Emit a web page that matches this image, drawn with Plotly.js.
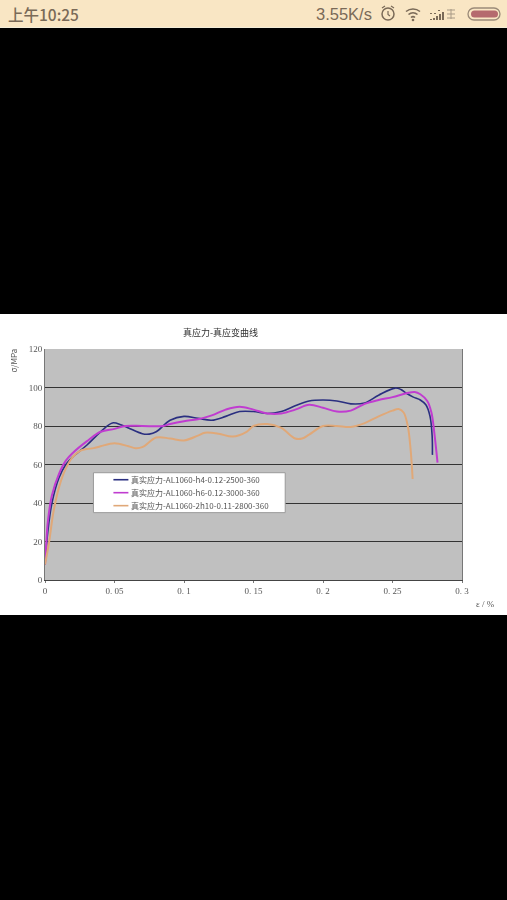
<!DOCTYPE html>
<html><head><meta charset="utf-8">
<script src="https://cdn.plot.ly/plotly-3.0.1.min.js"></script>
<style>
html,body{margin:0;padding:0;background:#000;width:507px;height:900px;overflow:hidden}
#status{position:absolute;left:0;top:0;width:507px;height:27px;background:#f9e6c4;border-bottom:1px solid #f3edd9;color:#7a6a58;font-family:"Liberation Sans",sans-serif}
#status span{position:absolute;white-space:nowrap}
#time{left:8px;top:4px;font-size:15.5px;font-family:"Noto Sans CJK SC",sans-serif;line-height:20px;font-weight:500}
#speed{left:316px;top:4px;font-size:16.5px;line-height:20px}
#icons{position:absolute;left:378px;top:3px}
#panel{position:absolute;left:0;top:314px;width:507px;height:301px;background:#fff}
#chart{width:507px;height:301px;filter:blur(0.45px)}
</style></head><body>
<div id="status"><span id="time">上午10:25</span><span id="speed">3.55K/s</span>
<svg id="icons" width="125" height="22" viewBox="0 0 125 22">
<circle cx="10" cy="11" r="6" fill="none" stroke="#7a6a58" stroke-width="1.5"/><path d="M10 8v3.500l2 1.500M4 5l3-2M16 5l-3-2" fill="none" stroke="#7a6a58" stroke-width="1.200"/>
<path d="M28 8.500a11 11 0 0 1 14 0M30.500 11.500a7 7 0 0 1 9 0M33 14.500a3 3 0 0 1 4 0" fill="none" stroke="#7a6a58" stroke-width="1.600"/><circle cx="35" cy="17" r="1.300" fill="#7a6a58"/>
<path d="M52 16h2v1h-2zM55 15h2v2h-2zM58 13h2v4h-2zM61 11h2v6h-2zM64 9h2v8h-2zM52 10h2v1h-2zM56 10h2v1h-2zM60 7h2v1h-2z" fill="#7a6a58"/>
<path d="M69 7h8M69 11h8M69 15h8M73 6v10" stroke="#a89a86" stroke-width="1" fill="none"/>
<rect x="90" y="5" width="32" height="12" rx="6" fill="none" stroke="#9a8a78" stroke-width="1.300"/><rect x="93" y="7.500" width="27" height="7" rx="3.500" fill="#b56a6e"/>
</svg></div>
<div id="panel"><div id="chart"></div></div>
<script>
var chartTitle = "真应力-真应变曲线";
var yTitle = "σ/MPa";
var xTitle = "ε / %";
var xTickVals = [0,0.05,0.1,0.15,0.2,0.25,0.3];
var xTickText = ["0","0. 05","0. 1","0. 15","0. 2","0. 25","0. 3"];
var yTickVals = [0,20,40,60,80,100,120];

var name1 = "真实应力-AL1060-h4-0.12-2500-360";
var x1 = [0,0.001,0.002,0.005,0.01,0.015,0.02,0.03,0.04,0.0485,0.055,0.06,0.07,0.075,0.08,0.09,0.1,0.11,0.12,0.13,0.14,0.15,0.16,0.17,0.18,0.19,0.2,0.21,0.22,0.23,0.24,0.2518,0.256,0.26,0.265,0.27,0.274,0.277,0.2785,0.2787];
var y1 = [8,17,25,40,53,60,64,70,77,81.6,80.5,79,76,75.8,77,83,85,84,83,85,87.5,87.5,86.5,87.5,90.5,93,93.5,93,91.5,92,96,99.7,99,97,95,93.5,91,85,75,65];

var name2 = "真实应力-AL1060-h6-0.12-3000-360";
var x2 = [0,0.001,0.002,0.005,0.01,0.015,0.02,0.03,0.04,0.05,0.058,0.07,0.085,0.09,0.1,0.11,0.12,0.13,0.14,0.15,0.16,0.17,0.18,0.19,0.2,0.21,0.22,0.23,0.24,0.25,0.26,0.266,0.27,0.275,0.278,0.28,0.2824];
var y2 = [8,20,30,44,55,62,66,72,77,78.5,80,80,80,81,82.5,83.5,85.5,88.5,90,88.5,86.5,86.5,88.5,91,89.5,87.5,88,91.5,93.5,95,97,97.7,96.5,93,87,77,61];

var name3 = "真实应力-AL1060-2h10-0.11-2800-360";
var x3 = [0,0.003,0.006,0.01,0.015,0.02,0.025,0.03,0.035,0.04,0.05,0.06,0.065,0.07,0.08,0.09,0.1,0.11,0.115,0.125,0.135,0.145,0.15,0.16,0.17,0.18,0.185,0.19,0.2,0.21,0.22,0.23,0.24,0.25,0.2544,0.258,0.261,0.263,0.2645];
var y3 = [8,20,35,48,58,64,67,68,68.5,69.5,71,69.5,68.5,69,74,73.5,72.5,75,76.5,76,74.5,77,80,81,79,73.5,73.5,75.5,80,80,79.5,81.5,85,88,88.8,87,80,68,52.5];

var txtFont = "'Noto Sans CJK SC','Liberation Serif',serif";
var txtColor = "#555";
function line(n,x,y,c,w){return {type:"scatter",mode:"lines",name:n,x:x,y:y,line:{color:c,width:w,shape:"spline",smoothing:1}};}
var seriesColors = ["#2a2f80","#c03cd0","#e0a878"];
var data = [
  line(name1,x1,y1,seriesColors[0],1.6),
  line(name2,x2,y2,seriesColors[1],2),
  line(name3,x3,y3,seriesColors[2],2)
];
// legend drawn by hand: its rows are tighter than Plotly's own legend allows
var W=417.5,H=231.5,L=44.5,B=580.5;
function px(v){return (v-L)/W;}
function py(v){return (B-v)/H;}
var shapes=[{type:"rect",xref:"paper",yref:"paper",x0:px(93),x1:px(285),y0:py(473),y1:py(513),fillcolor:"#fff",line:{color:"#999",width:1},layer:"above"}];
var annotations=[
    {text:chartTitle,xref:"paper",yref:"paper",x:px(220.5),y:py(332),xanchor:"center",yanchor:"middle",showarrow:false,font:{family:txtFont,size:9,color:"#333"}},
    {text:yTitle,xref:"paper",yref:"paper",x:px(13),y:py(361),xanchor:"center",yanchor:"middle",textangle:-90,showarrow:false,font:{family:txtFont,size:8,color:txtColor}},
    {text:xTitle,xref:"paper",yref:"paper",x:px(486),y:py(604.5),xanchor:"center",yanchor:"middle",showarrow:false,font:{family:"'Liberation Serif',serif",size:9,color:txtColor}}
];
[name1,name2,name3].forEach(function(n,i){
  var rowY=[480,493,506][i];
  shapes.push({type:"line",xref:"paper",yref:"paper",x0:px(113),x1:px(128),y0:py(rowY),y1:py(rowY),line:{color:seriesColors[i],width:1.6},layer:"above"});
  annotations.push({text:n,xref:"paper",yref:"paper",x:px(129),y:py(rowY),xanchor:"left",yanchor:"middle",showarrow:false,font:{family:txtFont,size:8,color:"#555"}});
});
var layout = {
  width:507,height:301,autosize:false,
  margin:{l:44.5,r:45,t:35,b:34.5,pad:0},
  paper_bgcolor:"#fff",plot_bgcolor:"#c0c0c0",
  showlegend:false,
  xaxis:{range:[0,0.3],tickmode:"array",tickvals:xTickVals,ticktext:xTickText,showgrid:false,zeroline:false,
    showline:true,linecolor:"#444",linewidth:1,mirror:false,ticks:"outside",ticklen:2,tickcolor:"#777",
    tickfont:{family:"'Liberation Serif',serif",size:9,color:txtColor}},
  yaxis:{range:[0,120],tickmode:"array",tickvals:yTickVals,showgrid:true,gridcolor:"#333",gridwidth:1,zeroline:false,
    showline:true,linecolor:"#777",linewidth:1,mirror:true,ticks:"",
    tickfont:{family:"'Liberation Serif',serif",size:9,color:txtColor}},
  shapes:shapes,annotations:annotations
};
Plotly.newPlot("chart",data,layout,{displayModeBar:false,staticPlot:true});
</script>
</body></html>
